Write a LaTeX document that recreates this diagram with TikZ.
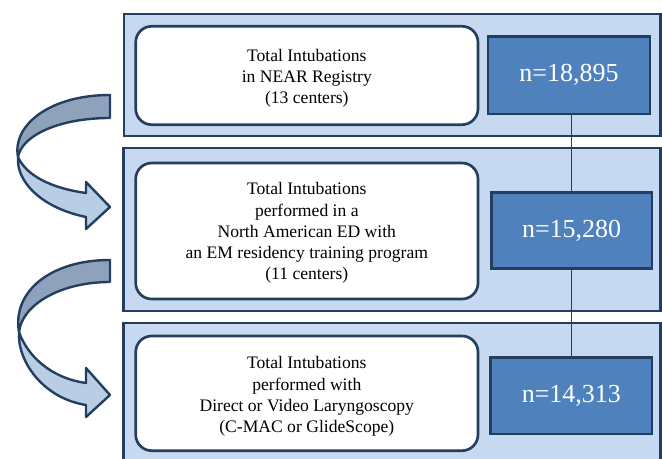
\documentclass[tikz,border=0pt]{standalone}
\usepackage{fontspec}
\setmainfont{Liberation Serif}
\usetikzlibrary{fit}
\definecolor{navy}{RGB}{36,62,96}
\definecolor{panelblue}{RGB}{198,217,240}
\definecolor{countblue}{RGB}{79,129,189}
\definecolor{bandback}{RGB}{142,162,188}
\definecolor{bandfront}{RGB}{185,205,229}
\begin{document}
\begin{tikzpicture}[x=0.75pt,y=-0.75pt,
  panel/.style={draw=navy, line width=2pt, fill=panelblue, inner sep=0pt},
  infobox/.style={draw=navy, line width=2pt, fill=white, rounded corners=12pt, inner sep=0pt},
  desctext/.style={align=center, inner sep=0pt, font=\fontsize{13.2}{15.9}\selectfont},
  countbox/.style={draw=navy, line width=2pt, fill=countblue, inner sep=0pt},
  counttext/.style={text=white, font=\fontsize{19.5}{23}\selectfont},
  link/.style={draw=navy, line width=0.8pt},
  backband/.style={fill=bandback, draw=navy, line width=1.8pt, line join=round},
  frontband/.style={fill=bandfront, draw=navy, line width=1.8pt, line join=round}]
\useasboundingbox (0,0) rectangle (662,459);

% stage panels
\node[panel, fit={(124,14) (660.5,136)}] (p1) {};
\node[panel, fit={(123.5,148) (660.5,311)}] (p2) {};
\node[panel, fit={(123.5,323) (660.5,463)}] (p3) {};

% description boxes and their texts
\node[infobox, fit={(135.7,26.3) (478,124.7)}] (d1) {};
\node[infobox, fit={(135.7,163) (478,299)}] (d2) {};
\node[infobox, fit={(135.7,336) (478,450.7)}] (d3) {};
\node[desctext] (e1) at (306.8,78)
  {Total Intubations\\in NEAR Registry\\(13 centers)};
\node[desctext] (e2) at (306.8,233)
  {Total Intubations\\performed in a\\North American ED with\\an EM residency training program\\(11 centers)};
\node[desctext] (e3) at (306.8,396.5)
  {Total Intubations\\performed with\\Direct or Video Laryngoscopy\\(C-MAC or GlideScope)};

% counts
\node[countbox, fit={(488,36.7) (650,114)}] (n1) {};
\node[countbox, fit={(491.3,192.3) (652,268.7)}] (n2) {};
\node[countbox, fit={(490.7,357.3) (652,434)}] (n3) {};
\node[counttext] (t1) at (n1.center) {n=18,895};
\node[counttext] (t2) at (n2.center) {n=15,280};
\node[counttext] (t3) at (n3.center) {n=14,313};

% vertical connector through the counts
\path[link] (n1.south -| n2.north) -- (n2.north);
\path[link] (n2.south) -- (n3.north -| n2.south);

% curved arrow between stage 1 and stage 2
\path[backband] (110,95) .. controls (50,95) and (12,125) .. (18,157)
  .. controls (22,135) and (60,118) .. (110,118) -- cycle;
\path[frontband] (18,157) .. controls (16,182) and (42,208) .. (86,217)
  -- (86,229) -- (110,207) -- (86,182) -- (86,193)
  .. controls (50,188) and (26,175) .. (18,157) -- cycle;

% curved arrow between stage 2 and stage 3
\path[backband] (110,260) .. controls (50,260) and (12,292) .. (19,332)
  .. controls (22,305) and (60,282) .. (110,282) -- cycle;
\path[frontband] (19,332) .. controls (17,360) and (42,398) .. (86,405)
  -- (86,417) -- (110,395) -- (86,368) -- (86,383)
  .. controls (50,378) and (27,355) .. (19,332) -- cycle;
\end{tikzpicture}
\end{document}
